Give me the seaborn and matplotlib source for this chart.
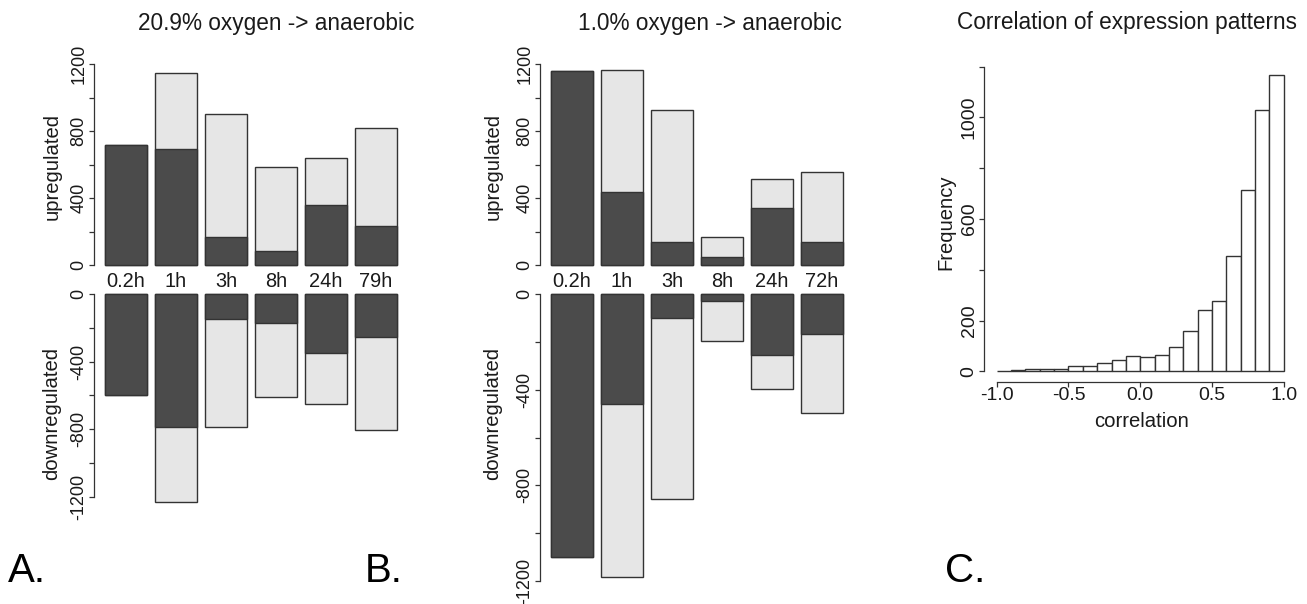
import matplotlib
matplotlib.use("Agg")
import matplotlib.pyplot as plt
import numpy as np
import pandas as pd
import seaborn as sns

# ---- data -------------------------------------------------------------
times_a = ["0.2h", "1h", "3h", "8h", "24h", "79h"]
times_b = ["0.2h", "1h", "3h", "8h", "24h", "72h"]

# 20.9% oxygen -> anaerobic (gene counts)
a_up_dark = [718, 697, 169, 86, 358, 237]
a_up_light = [0, 451, 734, 503, 281, 585]
a_down_dark = [600, 790, 147, 170, 350, 257]
a_down_light = [0, 443, 643, 440, 299, 547]

# 1.0% oxygen -> anaerobic (gene counts)
b_up_dark = [1158, 438, 137, 50, 340, 137]
b_up_light = [0, 728, 790, 117, 173, 422]
b_down_dark = [1098, 460, 99, 29, 255, 167]
b_down_light = [0, 722, 756, 166, 141, 332]

# correlation histogram: 20 bins of width 0.1 from -1 to 1
corr_mids = np.round(np.arange(-0.95, 1.0, 0.1), 2)
corr_counts = [2, 4, 9, 9, 9, 21, 21, 31, 43, 59, 58, 64, 97, 159,
               241, 278, 455, 712, 1029, 1166]

# ---- style ------------------------------------------------------------
sns.set_style("ticks")
plt.rcParams["font.family"] = ["Liberation Sans", "DejaVu Sans"]
plt.rcParams["axes.unicode_minus"] = False

DARK = "#4b4b4b"
LIGHT = "#e6e6e6"
EDGE = "#333333"
TXT = "#1a1a1a"

W, H = 1307, 604
fig = plt.figure(figsize=(W / 100, H / 100), dpi=100)


def px_axes(x0, y0, x1, y1):
    """Axes placed by pixel box (top-left origin)."""
    return fig.add_axes([x0 / W, 1 - y1 / H, (x1 - x0) / W, (y1 - y0) / H])


def stacked(ax, cats, dark, light, sign):
    total = [sign * (d + l) for d, l in zip(dark, light)]
    dk = [sign * d for d in dark]
    df_t = pd.DataFrame({"t": cats, "v": total})
    df_d = pd.DataFrame({"t": cats, "v": dk})
    sns.barplot(data=df_t, x="t", y="v", color=LIGHT, saturation=1,
                width=0.84, edgecolor=EDGE, linewidth=1.0, errorbar=None,
                ax=ax)
    sns.barplot(data=df_d, x="t", y="v", color=DARK, saturation=1,
                width=0.84, edgecolor=EDGE, linewidth=1.0, errorbar=None,
                ax=ax)
    for p in ax.patches:
        p.set_clip_on(False)
    ax.set_xlim(-0.64, 5.5)
    ax.set_xlabel("")
    ax.set_ylabel("")
    for s in ("top", "right", "bottom"):
        ax.spines[s].set_visible(False)
    ax.spines["left"].set_color(EDGE)
    ax.spines["left"].set_linewidth(0.9)
    ax.tick_params(axis="y", length=3.6, width=0.9, color=EDGE, pad=1,
                   labelsize=13, labelcolor=TXT)


def up_axis(ax, cats):
    ax.set_ylim(0, 1200)
    ax.set_yticks(range(0, 1201, 200),
                  ["0", "", "400", "", "800", "", "1200"],
                  rotation=90, va="center")
    ax.tick_params(axis="x", length=0, pad=5, labelsize=14.4,
                   labelcolor=TXT)
    ax.set_xticks(range(len(cats)), cats)


def down_axis(ax, low):
    ax.set_ylim(low, 0)
    ax.spines["left"].set_bounds(-1200, 0)
    ax.set_yticks(range(-1200, 1, 200),
                  ["-1200", "", "-800", "", "-400", "", "0"],
                  rotation=90, va="center")
    ax.set_xticks([])


# panel A
ax_a_up = px_axes(94, 64.3, 401, 265.3)
stacked(ax_a_up, times_a, a_up_dark, a_up_light, 1)
up_axis(ax_a_up, times_a)

ax_a_dn = px_axes(94, 294, 401, 294 + 1300 * 0.1689)
stacked(ax_a_dn, times_a, a_down_dark, a_down_light, -1)
down_axis(ax_a_dn, -1300)

# panel B
ax_b_up = px_axes(540, 64.3, 847, 265.3)
stacked(ax_b_up, times_b, b_up_dark, b_up_light, 1)
up_axis(ax_b_up, times_b)

ax_b_dn = px_axes(540, 294, 847, 294 + 1220 * 0.2392)
stacked(ax_b_dn, times_b, b_down_dark, b_down_light, -1)
down_axis(ax_b_dn, -1220)

# panel C: histogram of correlations
ax_c = px_axes(996.7, 66.5, 1283.7, 371.3)
hist_df = pd.DataFrame({"correlation": corr_mids, "count": corr_counts})
sns.histplot(data=hist_df, x="correlation", weights="count",
             bins=20, binrange=(-1.0, 1.0), color="white", edgecolor=EDGE,
             linewidth=1.0, alpha=1, ax=ax_c)
for p in ax_c.patches:
    p.set_clip_on(False)
ax_c.set_xlim(-1, 1)
ax_c.set_ylim(0, 1200)
ax_c.set_xlabel("")
ax_c.set_ylabel("")
for s in ("top", "right"):
    ax_c.spines[s].set_visible(False)
for s in ("left", "bottom"):
    ax_c.spines[s].set_color(EDGE)
    ax_c.spines[s].set_linewidth(0.9)
ax_c.spines["left"].set_position(("outward", 9.1))
ax_c.spines["bottom"].set_position(("outward", 7.5))
ax_c.spines["left"].set_bounds(0, 1200)
ax_c.spines["bottom"].set_bounds(-1, 1)
ax_c.set_xticks([-1.0, -0.5, 0.0, 0.5, 1.0],
                ["-1.0", "-0.5", "0.0", "0.5", "1.0"])
ax_c.set_yticks(range(0, 1201, 200),
                ["0", "200", "", "600", "", "1000", ""],
                rotation=90, va="center")
ax_c.tick_params(axis="both", length=3.6, width=0.9, color=EDGE,
                 labelsize=14, labelcolor=TXT)
ax_c.tick_params(axis="x", pad=0.5)
ax_c.tick_params(axis="y", pad=1)

# ---- titles, axis labels and panel letters ----------------------------
def ftext(x, y, s, **kw):
    kw.setdefault("color", TXT)
    fig.text(x / W, 1 - y / H, s, **kw)


ftext(276, 30, "20.9% oxygen -> anaerobic", ha="center", va="baseline",
      fontsize=16.3)
ftext(710, 30, "1.0% oxygen -> anaerobic", ha="center", va="baseline",
      fontsize=16.3)
ftext(1127, 29, "Correlation of expression patterns", ha="center",
      va="baseline", fontsize=16.3)

for x in (52, 493):
    ftext(x, 167, "upregulated", rotation=90, ha="center", va="center",
          fontsize=14.6)
    ftext(x, 414, "downregulated", rotation=90, ha="center", va="center",
          fontsize=14.6)

ftext(946, 222, "Frequency", rotation=90, ha="center", va="center",
      fontsize=14.6)
ftext(1142, 427, "correlation", ha="center", va="baseline", fontsize=14.6)

for x, s in ((8, "A."), (365, "B."), (945, "C.")):
    ftext(x, 582, s, ha="left", va="baseline", fontsize=29, color="black")

fig.savefig("out.png", dpi=100, facecolor="white")
